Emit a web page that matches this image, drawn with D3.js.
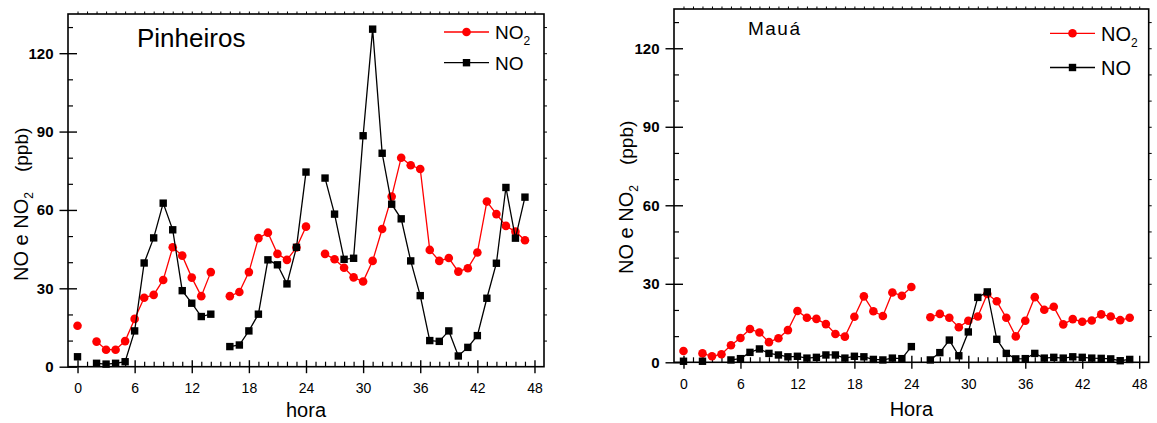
<!DOCTYPE html>
<html><head><meta charset="utf-8">
<script src="https://cdn.jsdelivr.net/npm/d3@7"></script>
<style>
html,body{margin:0;padding:0;background:#fff;}
svg{display:block;font-family:Arial,"Liberation Sans",Helvetica,sans-serif;}
</style></head>
<body>
<svg id="chart" width="1157" height="423"></svg>
<script>
// ---- data (hour 0..47; null = missing) ----
const hours = d3.range(0, 48);
const xTickValues = [0, 6, 12, 18, 24, 30, 36, 42, 48];
const yTickValues = [0, 30, 60, 90, 120];
const yMinorValues = [10, 20, 40, 50, 70, 80, 100, 110, 130];

const pinNO2 = [15.7, null, 9.6, 6.5, 6.5, 9.8, 18.3, 26.4, 27.5, 33.2, 45.7, 42.5, 34.1, 27.0, 36.2, null,
  27.0, 28.6, 36.2, 49.2, 51.3, 43.2, 40.9, 45.6, 53.6, null, 43.2, 41.1, 37.9, 34.2, 32.6, 40.5,
  52.7, 65.1, 80.0, 77.1, 75.7, 44.7, 40.5, 41.6, 36.4, 37.7, 43.7, 63.2, 58.4, 53.9, 51.7, 48.4];
const pinNO = [3.8, null, 1.3, 1.0, 1.3, 1.9, 13.7, 39.7, 49.3, 62.6, 52.4, 29.1, 24.3, 19.2, 20.1, null,
  7.7, 8.3, 13.7, 20.1, 40.9, 39.0, 31.7, 45.7, 74.5, null, 72.2, 58.4, 41.1, 41.5, 88.4, 129.2,
  81.7, 62.2, 56.6, 40.5, 27.2, 10.0, 9.7, 13.7, 4.1, 7.4, 11.9, 26.2, 39.6, 68.6, 49.2, 64.9];
const mauNO2 = [4.3, null, 3.4, 2.3, 3.1, 6.5, 9.3, 12.7, 11.4, 7.7, 9.2, 12.3, 19.6, 17.0, 16.6, 14.6,
  10.8, 9.8, 17.4, 25.2, 19.5, 17.7, 26.7, 25.4, 28.8, null, 17.2, 18.5, 17.0, 13.4, 15.9, 17.5,
  26.1, 23.3, 17.0, 9.9, 15.9, 24.9, 20.1, 21.2, 14.5, 16.5, 15.5, 16.0, 18.3, 17.5, 16.1, 17.0];
const mauNO = [0.4, null, 0.4, null, null, 0.9, 1.4, 3.8, 5.1, 3.4, 2.8, 2.1, 2.3, 1.6, 1.9, 2.8,
  2.8, 1.6, 2.3, 2.1, 1.1, 0.9, 1.6, 1.4, 6.0, null, 0.9, 3.7, 8.5, 2.5, 11.6, 24.8,
  26.9, 8.8, 3.4, 1.3, 1.4, 3.4, 1.6, 1.9, 1.6, 2.1, 1.9, 1.6, 1.5, 1.3, 0.6, 1.1];

const panels = [
  {title: "Pinheiros", xTitle: "hora", no2: pinNO2, no: pinNO,
   left: 68, right: 544, top: 14, bottom: 366.7,
   titleX: 137, titleY: 47, titleSize: 26, titleLen: null,
   yLabX: 28, yLabY: 281, legX: 444, legY1: 32, legY2: 62.7, legSize: 19,
   xTitleY: 417},
  {title: "Mauá", xTitle: "Hora", no2: mauNO2, no: mauNO,
   left: 674, right: 1148.7, top: 9, bottom: 362.3,
   titleX: 748, titleY: 35, titleSize: 19, titleLen: 52,
   yLabX: 633, yLabY: 274, legX: 1050, legY1: 33.3, legY2: 67.5, legSize: 20,
   xTitleY: 416}
];

const svg = d3.select("#chart");

panels.forEach(p => {
  const g = svg.append("g");
  const x = d3.scaleLinear().domain([-1, 49]).range([p.left, p.right]);
  const y = d3.scaleLinear().domain([0, 135]).range([p.bottom, p.top]);

  // bottom axis: labels + outward part of major ticks
  const ax = g.append("g").attr("transform", `translate(0,${p.bottom})`)
    .call(d3.axisBottom(x).tickValues(xTickValues).tickSizeInner(6.5).tickSizeOuter(0).tickPadding(10));
  ax.select(".domain").remove();
  ax.selectAll("text").attr("font-size", 14).attr("font-family", "Arial, 'Liberation Sans', sans-serif").attr("fill", "#000");
  ax.selectAll("line").attr("stroke-width", 1.4);
  // inward major
  const ax2 = g.append("g").attr("transform", `translate(0,${p.bottom})`)
    .call(d3.axisBottom(x).tickValues(xTickValues).tickSize(-6.5).tickFormat(""));
  ax2.select(".domain").remove();
  ax2.selectAll("line").attr("stroke-width", 1.4);
  // minor inward
  const ax3 = g.append("g").attr("transform", `translate(0,${p.bottom})`)
    .call(d3.axisBottom(x).tickValues(hours.filter(h => h % 6 !== 0)).tickSize(-5).tickFormat(""));
  ax3.select(".domain").remove();
  ax3.selectAll("line").attr("stroke-width", 1.2);
  // top mirror ticks
  const axT = g.append("g").attr("transform", `translate(0,${p.top})`)
    .call(d3.axisTop(x).tickValues(d3.range(0, 49)).tickSize(2.5).tickFormat(""));
  axT.select(".domain").remove();
  axT.selectAll("line").attr("stroke-width", 1);

  // left axis
  const ay = g.append("g").attr("transform", `translate(${p.left},0)`)
    .call(d3.axisLeft(y).tickValues(yTickValues).tickSizeInner(8.5).tickSizeOuter(0).tickPadding(6));
  ay.select(".domain").remove();
  ay.selectAll("text").attr("font-size", 15).attr("font-weight", "bold").attr("fill", "#000");
  ay.selectAll("line").attr("stroke-width", 1.4);
  const ay2 = g.append("g").attr("transform", `translate(${p.left},0)`)
    .call(d3.axisLeft(y).tickValues(yTickValues).tickSize(-9).tickFormat(""));
  ay2.select(".domain").remove();
  ay2.selectAll("line").attr("stroke-width", 1.4);
  const ay3 = g.append("g").attr("transform", `translate(${p.left},0)`)
    .call(d3.axisLeft(y).tickValues(yMinorValues).tickSize(-5).tickFormat(""));
  ay3.select(".domain").remove();
  ay3.selectAll("line").attr("stroke-width", 1.2);
  // right mirror ticks
  const ayR = g.append("g").attr("transform", `translate(${p.right},0)`)
    .call(d3.axisRight(y).tickValues(d3.range(10, 135, 10)).tickSize(3).tickFormat(""));
  ayR.select(".domain").remove();
  ayR.selectAll("line").attr("stroke-width", 1);

  // frame
  g.append("rect").attr("x", p.left).attr("y", p.top)
    .attr("width", p.right - p.left).attr("height", p.bottom - p.top)
    .attr("fill", "none").attr("stroke", "#000").attr("stroke-width", 1.6);

  // series
  const line = d3.line().defined(d => d[1] !== null).x(d => x(d[0])).y(d => y(d[1]));
  const series = [
    {vals: p.no2, color: "#ff0000", shape: "circle"},
    {vals: p.no, color: "#000000", shape: "square"}
  ];
  series.forEach(s => {
    const pts = hours.map(h => [h, s.vals[h]]);
    g.append("path").datum(pts).attr("d", line)
      .attr("fill", "none").attr("stroke", s.color).attr("stroke-width", 1.3);
    const valid = pts.filter(d => d[1] !== null);
    if (s.shape === "circle") {
      g.selectAll(null).data(valid).join("circle")
        .attr("cx", d => x(d[0])).attr("cy", d => y(d[1])).attr("r", 4.3).attr("fill", s.color);
    } else {
      g.selectAll(null).data(valid).join("rect")
        .attr("x", d => x(d[0]) - 3.7).attr("y", d => y(d[1]) - 3.7)
        .attr("width", 7.4).attr("height", 7.4).attr("fill", s.color);
    }
  });

  // title
  const t = g.append("text").attr("x", p.titleX).attr("y", p.titleY)
    .attr("font-size", p.titleSize).attr("fill", "#000").text(p.title);
  if (p.titleLen) t.attr("textLength", p.titleLen).attr("lengthAdjust", "spacing");

  // x title
  g.append("text").attr("x", x(24)).attr("y", p.xTitleY).attr("text-anchor", "middle")
    .attr("font-size", 20).attr("fill", "#000").text(p.xTitle);

  // y title
  const yt = g.append("text").attr("transform", `translate(${p.yLabX},${p.yLabY}) rotate(-90)`)
    .attr("font-size", 20).attr("fill", "#000");
  yt.append("tspan").text("NO e NO");
  yt.append("tspan").attr("font-size", 12).attr("dy", 5).text("2");
  yt.append("tspan").attr("dy", -5).attr("dx", 20).attr("font-size", 19).text("(ppb)");

  // legend
  const lw = 45;
  const legRows = [{label: "NO", sub: "2", color: "#ff0000", shape: "circle", yy: p.legY1},
                   {label: "NO", sub: null, color: "#000", shape: "square", yy: p.legY2}];
  legRows.forEach(r => {
    g.append("line").attr("x1", p.legX).attr("x2", p.legX + lw).attr("y1", r.yy).attr("y2", r.yy)
      .attr("stroke", r.color).attr("stroke-width", 1.3);
    if (r.shape === "circle") {
      g.append("circle").attr("cx", p.legX + lw / 2).attr("cy", r.yy).attr("r", 4.3).attr("fill", r.color);
    } else {
      g.append("rect").attr("x", p.legX + lw / 2 - 3.7).attr("y", r.yy - 3.7)
        .attr("width", 7.4).attr("height", 7.4).attr("fill", r.color);
    }
    const lt = g.append("text").attr("x", p.legX + lw + 6).attr("y", r.yy + p.legSize * 0.36)
      .attr("font-size", p.legSize).attr("fill", "#000");
    lt.append("tspan").text(r.label);
    if (r.sub) lt.append("tspan").attr("font-size", 12).attr("dy", 6).text(r.sub);
  });
});
</script>
</body></html>
